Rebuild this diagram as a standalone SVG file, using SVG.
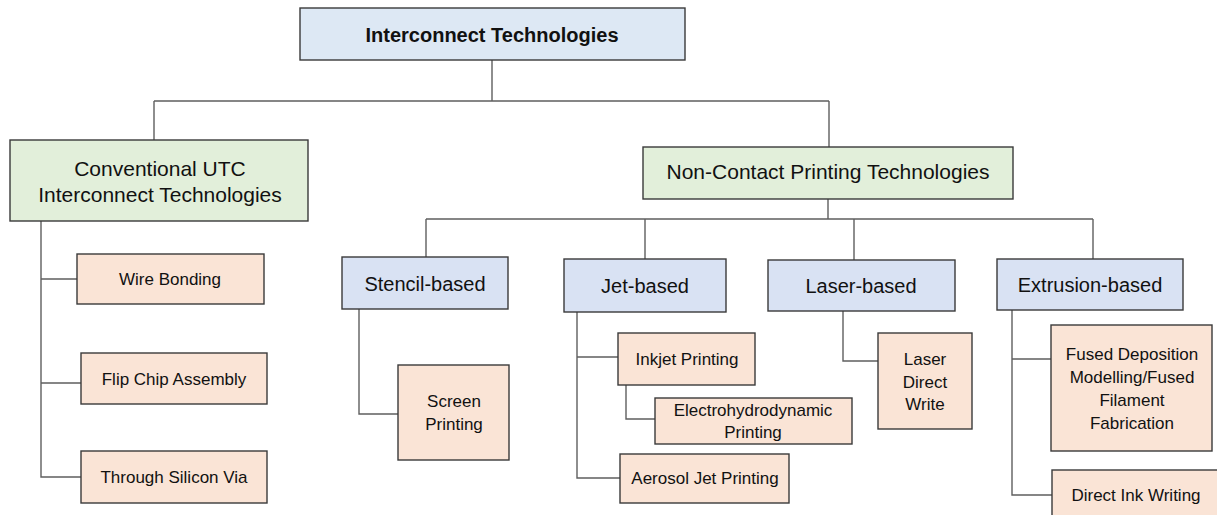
<svg xmlns="http://www.w3.org/2000/svg" width="1217" height="515" viewBox="0 0 1217 515">
<style>
  .box{stroke:#3a3a3a;stroke-width:1.4}
  .root{fill:#dde8f4}
  .cat{fill:#e2efda}
  .sub{fill:#d9e2f3}
  .leaf{fill:#fae4d6}
  .con{fill:none;stroke:#5f5f5f;stroke-width:1.4}
  text{font-family:"Liberation Sans",Arial,sans-serif;fill:#111;text-anchor:middle}
  .t1{font-size:20px;font-weight:bold}
  .t2{font-size:21px}
  .t3{font-size:20px}
  .t4{font-size:17px}
</style>
<rect width="1217" height="515" fill="#ffffff"/>
<g id="connectors">
  <path class="con" d="M492,60 V101 M154,101 H829 M154,101 V140 M829,101 V147"/>
  <path class="con" d="M41,221 V477 H81 M41,279 H77 M41,383 H81"/>
  <path class="con" d="M828,199 V219 M426,219 H1093 M426,219 V257 M645,219 V259 M854,219 V260 M1093,219 V259"/>
  <path class="con" d="M359,309 V414 H398"/>
  <path class="con" d="M577,312 V478 H620 M577,357 H618 M626,385 V419 H655"/>
  <path class="con" d="M843,311 V361 H878"/>
  <path class="con" d="M1012,310 V495 H1052 M1012,359 H1051"/>
</g>
<g id="n-root"><rect class="box root" x="300" y="8" width="385" height="52"/><text class="t1" x="492" y="42">Interconnect Technologies</text></g>
<g id="n-conv"><rect class="box cat" x="10" y="140" width="298" height="81"/><text class="t2" x="160" y="176">Conventional UTC</text><text class="t2" x="160" y="202">Interconnect Technologies</text></g>
<g id="n-noncontact"><rect class="box cat" x="643" y="147" width="370" height="52"/><text class="t2" x="828" y="179">Non-Contact Printing Technologies</text></g>
<g id="n-stencil"><rect class="box sub" x="342" y="257" width="166" height="52"/><text class="t3" x="425" y="291">Stencil-based</text></g>
<g id="n-jet"><rect class="box sub" x="564" y="259" width="162" height="53"/><text class="t3" x="645" y="293">Jet-based</text></g>
<g id="n-laser"><rect class="box sub" x="768" y="260" width="187" height="51"/><text class="t3" x="861" y="293">Laser-based</text></g>
<g id="n-extrusion"><rect class="box sub" x="997" y="259" width="186" height="51"/><text class="t3" x="1090" y="292">Extrusion-based</text></g>
<g id="n-wire"><rect class="box leaf" x="77" y="254" width="187" height="50"/><text class="t4" x="170" y="285">Wire Bonding</text></g>
<g id="n-flip"><rect class="box leaf" x="81" y="353" width="186" height="51"/><text class="t4" x="174" y="385">Flip Chip Assembly</text></g>
<g id="n-tsv"><rect class="box leaf" x="81" y="451" width="186" height="52"/><text class="t4" x="174" y="483">Through Silicon Via</text></g>
<g id="n-screen"><rect class="box leaf" x="398" y="365" width="111" height="95"/><text class="t4" x="454" y="407">Screen</text><text class="t4" x="454" y="430">Printing</text></g>
<g id="n-inkjet"><rect class="box leaf" x="618" y="333" width="137" height="52"/><text class="t4" x="687" y="365">Inkjet Printing</text></g>
<g id="n-ehd"><rect class="box leaf" x="655" y="398" width="197" height="46"/><text class="t4" x="753" y="416">Electrohydrodynamic</text><text class="t4" x="753" y="438">Printing</text></g>
<g id="n-aerosol"><rect class="box leaf" x="620" y="454" width="169" height="49"/><text class="t4" x="705" y="484">Aerosol Jet Printing</text></g>
<g id="n-ldw"><rect class="box leaf" x="878" y="333" width="94" height="96"/><text class="t4" x="925" y="365">Laser</text><text class="t4" x="925" y="388">Direct</text><text class="t4" x="925" y="410">Write</text></g>
<g id="n-fdm"><rect class="box leaf" x="1051" y="325" width="161" height="126"/><text class="t4" x="1132" y="360">Fused Deposition</text><text class="t4" x="1132" y="383">Modelling/Fused</text><text class="t4" x="1132" y="406">Filament</text><text class="t4" x="1132" y="429">Fabrication</text></g>
<g id="n-diw"><rect class="box leaf" x="1052" y="470" width="180" height="60"/><text class="t4" x="1136" y="501">Direct Ink Writing</text></g>
</svg>
